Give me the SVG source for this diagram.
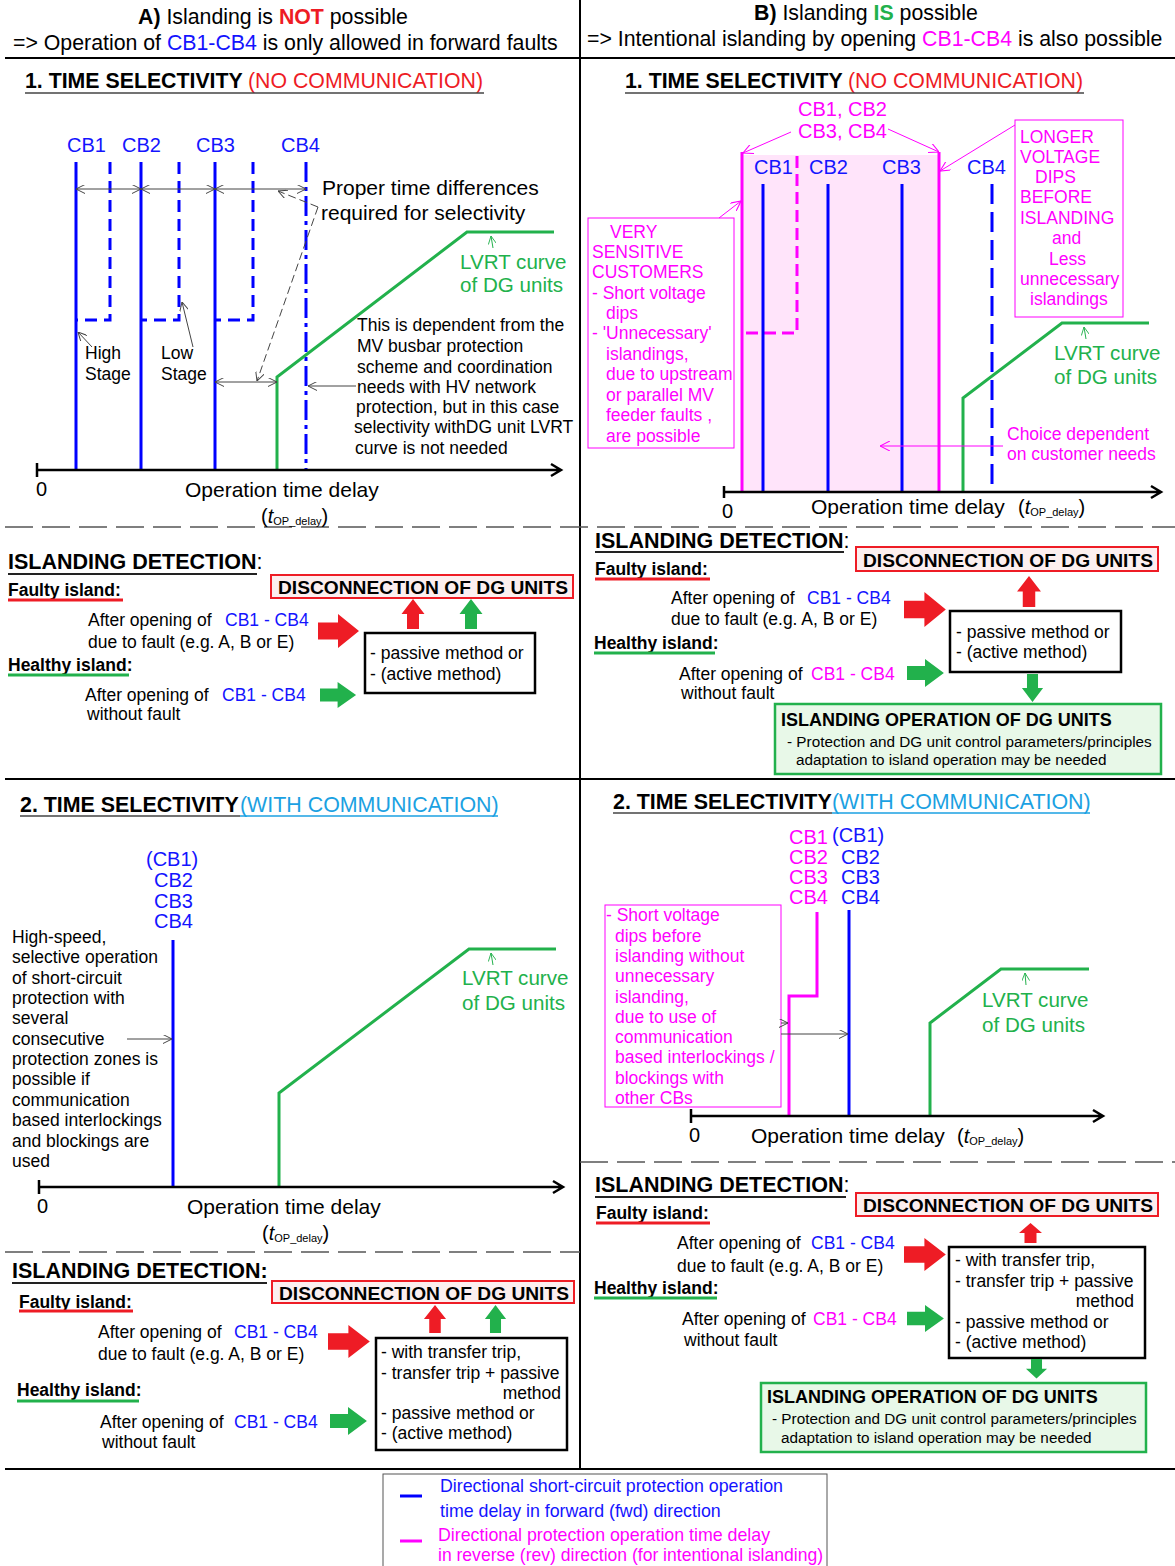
<svg xmlns="http://www.w3.org/2000/svg" width="1175" height="1566" viewBox="0 0 1175 1566">
<style>
text{font-family:"Liberation Sans",Arial,sans-serif;fill:#000}
.b{font-weight:bold}
.h21{font-size:21.3px}
.f20{font-size:20px}
.f21{font-size:21px}
.lv{font-size:20.6px}
.f17{font-size:17.5px}
.f18{font-size:17.8px}
.fb18{font-size:18px}
.f14{font-size:15.3px}
.blu{fill:#1414ff}
.mag{fill:#ff00ff}
.grn{fill:#22b14c}
.red{fill:#ee1c25}
.lbl{fill:#1ba1e2}
.sep{stroke:#000;stroke-width:2;fill:none}
.dsep{stroke:#555;stroke-width:1.5;stroke-dasharray:28 9;fill:none}
.ul{stroke:#444;stroke-width:1.5}
.bl{stroke:#0000ff;stroke-width:3;fill:none}
.bld{stroke:#0000ff;stroke-width:3;fill:none;stroke-dasharray:12 7}
.mg{stroke:#ff00ff;stroke-width:3;fill:none}
.gr{stroke:#22b14c;stroke-width:3;fill:none}
.ax{stroke:#000;stroke-width:2.5;fill:none}
.cn{stroke:#444;stroke-width:1;fill:none}
.cnm{stroke:#ff00ff;stroke-width:1;fill:none}
.cng{stroke:#22b14c;stroke-width:1;fill:none}
.dbox{fill:#fcefef;stroke:#ee1c25;stroke-width:2}
.kbox{fill:#fff;stroke:#000;stroke-width:2.5}
.gbox{fill:#e8f8e8;stroke:#22b14c;stroke-width:2.5}
.mbox{fill:#fff;stroke:#ff00ff;stroke-width:1}
.ar-r{fill:#ee1c25}
.ar-g{fill:#22b14c}
.dg{font-weight:bold;font-size:19.2px}
.idt{font-weight:bold;font-size:21.5px}
</style>
<defs>
<marker id="ah" viewBox="0 0 10 10" refX="10" refY="5" markerWidth="9" markerHeight="9" markerUnits="userSpaceOnUse" orient="auto-start-reverse"><path d="M0,0 L10,5 L0,10" fill="none" stroke="#444" stroke-width="1.1"/></marker>
<marker id="ahm" viewBox="0 0 10 10" refX="10" refY="5" markerWidth="10" markerHeight="10" markerUnits="userSpaceOnUse" orient="auto-start-reverse"><path d="M0,0 L10,5 L0,10" fill="none" stroke="#ff00ff" stroke-width="1.1"/></marker>
<marker id="ahg" viewBox="0 0 10 10" refX="10" refY="5" markerWidth="8" markerHeight="8" markerUnits="userSpaceOnUse" orient="auto-start-reverse"><path d="M0,0 L10,5 L0,10" fill="none" stroke="#22b14c" stroke-width="1.1"/></marker>
<path id="arR" d="M0,-8.5 H20 V-17 L41,0 L20,17 V8.5 H0 Z"/>
<path id="arU" d="M-6,0 V-15 H-11.5 L0,-30 L11.5,-15 H6 V0 Z"/>
</defs>

<rect width="1175" height="1566" fill="#fff"/>

<!-- frame: separators between the panels -->
<g id="frame">
<path class="sep" d="M580,0 V1469"/>
<path class="sep" d="M5,58 H1175"/>
<path class="sep" d="M5,779 H1175"/>
<path class="sep" d="M5,1469 H1175"/>
<path class="dsep" d="M5,527 H1175"/>
<path class="dsep" d="M5,1252 H580"/>
<path class="dsep" d="M580,1162 H1175"/>
</g>

<!-- column headers -->
<g id="header-a">
<text class="h21" x="138" y="24"><tspan class="b">A)</tspan> Islanding is <tspan class="b red">NOT</tspan> possible</text>
<text class="h21" x="13" y="50">=&gt; Operation of <tspan class="blu">CB1-CB4</tspan> is only allowed in forward faults</text>
</g>
<g id="header-b">
<text class="h21" x="754" y="20"><tspan class="b">B)</tspan> Islanding <tspan class="b grn">IS</tspan> possible</text>
<text class="h21" x="587" y="46">=&gt; Intentional islanding by opening <tspan class="mag">CB1-CB4</tspan> is also possible</text>
</g>

<!-- section 1 headings -->
<g id="heading-a1">
<text class="h21" x="25" y="88"><tspan class="b">1. TIME SELECTIVITY</tspan><tspan class="red" x="248">(NO COMMUNICATION)</tspan></text>
<line class="ul" x1="25" y1="93" x2="484" y2="93"/>
</g>
<g id="heading-b1">
<text class="h21" x="625" y="88"><tspan class="b">1. TIME SELECTIVITY</tspan><tspan class="red" x="848">(NO COMMUNICATION)</tspan></text>
<line class="ul" x1="625" y1="93" x2="1084" y2="93"/>
</g>

<!-- chart A1: time selectivity without communication -->
<g id="chart-a1">
<text class="f20 blu" x="67" y="152">CB1</text>
<text class="f20 blu" x="122" y="152">CB2</text>
<text class="f20 blu" x="196" y="152">CB3</text>
<text class="f20 blu" x="281" y="152">CB4</text>
<path class="bl" d="M76,162 V470 M141,162 V470 M215,162 V470"/>
<path class="bld" d="M110,162 V320 H76 M179,162 V320 H141 M253,162 V320 H215"/>
<path class="bl" d="M306,162 V470" stroke-dasharray="20 5 4 5"/>
<path class="gr" d="M277,470 V377 L467,232 H554"/>
<path class="ax" d="M37,470 H560 M551,464 L561,470 L551,476 M37,463 V477"/>
<text class="f20" x="36" y="496">0</text>
<text class="f21" x="185" y="497">Operation time delay</text>
<text class="f20" x="261" y="523">(<tspan font-style="italic">t</tspan><tspan font-size="11" dy="2">OP_delay</tspan><tspan dy="-2">)</tspan></text>
<text class="f17" x="85" y="359">High</text>
<text class="f17" x="85" y="380">Stage</text>
<text class="f17" x="161" y="359">Low</text>
<text class="f17" x="161" y="380">Stage</text>
<text class="f21" x="322" y="195">Proper time differences</text>
<text class="f21" x="321" y="220">required for selectivity</text>
<text class="lv grn" x="460" y="269">LVRT curve</text>
<text class="lv grn" x="460" y="292">of DG units</text>
<text class="f17" x="357" y="331">This is dependent from the</text>
<text class="f17" x="357" y="352">MV busbar protection</text>
<text class="f17" x="357" y="373">scheme and coordination</text>
<text class="f17" x="357" y="393">needs with HV network</text>
<text class="f17" x="356" y="413">protection, but in this case</text>
<text class="f17" x="354" y="433">selectivity withDG unit LVRT</text>
<text class="f17" x="355" y="454">curve is not needed</text>
</g>

<!-- chart B1: intentional islanding without communication -->
<g id="chart-b1">
<rect x="742" y="155" width="197" height="337" fill="#ffe4fa"/>
<path class="mg" d="M742,152 V492 M939,152 V492"/>
<path class="mg" d="M797,156 V333 H742" stroke-dasharray="12 6"/>
<text class="f20 blu" x="754" y="174">CB1</text>
<text class="f20 blu" x="809" y="174">CB2</text>
<text class="f20 blu" x="882" y="174">CB3</text>
<text class="f20 blu" x="967" y="174">CB4</text>
<path class="bl" d="M763,184 V492 M828,184 V492 M902,184 V492"/>
<path class="bl" d="M992,184 V492" stroke-dasharray="20 8"/>
<path class="gr" d="M963,492 V398 L1062,323 H1149"/>
<path class="ax" d="M724,492 H1160 M1151,486 L1161,492 L1151,498 M724,486 V498"/>
<text class="f20" x="722" y="518">0</text>
<text class="f21" x="811" y="514">Operation time delay</text>
<text class="f20" x="1018" y="514">(<tspan font-style="italic">t</tspan><tspan font-size="11" dy="2">OP_delay</tspan><tspan dy="-2">)</tspan></text>
<text class="f20 mag" x="798" y="116">CB1, CB2</text>
<text class="f20 mag" x="798" y="138">CB3, CB4</text>
<rect class="mbox" x="588" y="218" width="146" height="230"/>
<text class="f17 mag" x="610" y="238">VERY</text>
<text class="f17 mag" x="592" y="258">SENSITIVE</text>
<text class="f17 mag" x="592" y="278">CUSTOMERS</text>
<text class="f17 mag" x="592" y="299">- Short voltage</text>
<text class="f17 mag" x="606" y="319">dips</text>
<text class="f17 mag" x="592" y="339">- 'Unnecessary'</text>
<text class="f17 mag" x="606" y="360">islandings,</text>
<text class="f17 mag" x="606" y="380">due to upstream</text>
<text class="f17 mag" x="606" y="401">or parallel MV</text>
<text class="f17 mag" x="606" y="421">feeder faults ,</text>
<text class="f17 mag" x="606" y="442">are possible</text>
<rect class="mbox" x="1015" y="120" width="108" height="197"/>
<text class="f17 mag" x="1020" y="143">LONGER</text>
<text class="f17 mag" x="1020" y="163">VOLTAGE</text>
<text class="f17 mag" x="1035" y="183">DIPS</text>
<text class="f17 mag" x="1020" y="203">BEFORE</text>
<text class="f17 mag" x="1020" y="224">ISLANDING</text>
<text class="f17 mag" x="1052" y="244">and</text>
<text class="f17 mag" x="1049" y="265">Less</text>
<text class="f17 mag" x="1020" y="285">unnecessary</text>
<text class="f17 mag" x="1030" y="305">islandings</text>
<text class="lv grn" x="1054" y="360">LVRT curve</text>
<text class="lv grn" x="1054" y="384">of DG units</text>
<text class="f17 mag" x="1007" y="440">Choice dependent</text>
<text class="f17 mag" x="1007" y="460">on customer needs</text>
</g>

<!-- islanding detection A1 -->
<g id="detect-a1">
<text class="idt" x="8" y="569">ISLANDING DETECTION<tspan font-weight="normal">:</tspan></text>
<line x1="8" y1="574" x2="257" y2="574" stroke="#222" stroke-width="2"/>
<text class="b f17" x="8" y="596">Faulty island:</text>
<line x1="8" y1="600" x2="123" y2="600" stroke="#ee1c25" stroke-width="3"/>
<text class="b f17" x="8" y="671">Healthy island:</text>
<line x1="8" y1="675" x2="129" y2="675" stroke="#22b14c" stroke-width="3"/>
<text class="f17" x="88" y="626">After opening of<tspan class="blu" x="225">CB1 - CB4</tspan></text>
<text class="f17" x="88" y="648">due to fault (e.g. A, B or E)</text>
<text class="f17" x="85" y="701">After opening of<tspan class="blu" x="222">CB1 - CB4</tspan></text>
<text class="f17" x="87" y="720">without fault</text>
<rect class="dbox" x="271" y="575" width="302" height="23"/>
<text class="dg" x="278" y="594">DISCONNECTION OF DG UNITS</text>
<rect class="kbox" x="365" y="633" width="170" height="60"/>
<text class="f17" x="370" y="659">- passive method or</text>
<text class="f17" x="370" y="680">- (active method)</text>
<use href="#arR" class="ar-r" transform="translate(318,631)"/>
<use href="#arR" class="ar-g" transform="translate(320,695) scale(0.88,0.76)"/>
<use href="#arU" class="ar-r" transform="translate(413,629)"/>
<use href="#arU" class="ar-g" transform="translate(471,629)"/>
</g>

<!-- islanding detection B1 -->
<g id="detect-b1">
<text class="idt" x="595" y="548">ISLANDING DETECTION<tspan font-weight="normal">:</tspan></text>
<line x1="595" y1="552" x2="844" y2="552" stroke="#222" stroke-width="2"/>
<text class="b f17" x="595" y="575">Faulty island:</text>
<line x1="595" y1="579" x2="710" y2="579" stroke="#ee1c25" stroke-width="3"/>
<text class="b f17" x="594" y="649">Healthy island:</text>
<line x1="594" y1="653" x2="715" y2="653" stroke="#22b14c" stroke-width="3"/>
<text class="f17" x="671" y="604">After opening of<tspan class="blu" x="807">CB1 - CB4</tspan></text>
<text class="f17" x="671" y="625">due to fault (e.g. A, B or E)</text>
<text class="f17" x="679" y="680">After opening of<tspan class="mag" x="811">CB1 - CB4</tspan></text>
<text class="f17" x="681" y="699">without fault</text>
<rect class="dbox" x="856" y="547" width="302" height="24"/>
<text class="dg" x="863" y="567">DISCONNECTION OF DG UNITS</text>
<rect class="kbox" x="950" y="611" width="171" height="61"/>
<text class="f17" x="956" y="638">- passive method or</text>
<text class="f17" x="956" y="658">- (active method)</text>
<use href="#arR" class="ar-r" transform="translate(904,609.5) scale(1.02,1.03)"/>
<use href="#arR" class="ar-g" transform="translate(907,673) scale(0.9,0.82)"/>
<use href="#arU" class="ar-r" transform="translate(1029,607) scale(1.04,1.03)"/>
<use href="#arU" class="ar-g" transform="translate(1032.5,674) scale(0.92,-0.93)"/>
<rect class="gbox" x="775" y="704" width="386" height="70"/>
<text class="b fb18" x="781" y="726">ISLANDING OPERATION OF DG UNITS</text>
<text class="f14" x="787" y="747">- Protection and DG unit control parameters/principles</text>
<text class="f14" x="796" y="765">adaptation to island operation may be needed</text>
</g>

<!-- section 2 headings -->
<g id="heading-a2">
<text font-size="21.4" x="20" y="812"><tspan class="b">2. TIME SELECTIVITY</tspan><tspan class="lbl" x="240">(WITH COMMUNICATION)</tspan></text>
<line class="ul" x1="20" y1="816" x2="240" y2="816"/>
<line x1="240" y1="816" x2="498" y2="816" stroke="#1ba1e2" stroke-width="1.5"/>
</g>
<g id="heading-b2">
<text font-size="21.4" x="613" y="809"><tspan class="b">2. TIME SELECTIVITY</tspan><tspan class="lbl" x="832">(WITH COMMUNICATION)</tspan></text>
<line class="ul" x1="613" y1="813" x2="832" y2="813"/>
<line x1="832" y1="813" x2="1090" y2="813" stroke="#1ba1e2" stroke-width="1.5"/>
</g>

<!-- chart A2: time selectivity with communication -->
<g id="chart-a2">
<text class="f20 blu" x="146" y="866">(CB1)</text>
<text class="f20 blu" x="154" y="887">CB2</text>
<text class="f20 blu" x="154" y="908">CB3</text>
<text class="f20 blu" x="154" y="928">CB4</text>
<path class="bl" d="M173,940 V1187"/>
<path class="gr" d="M279,1187 V1093 L469,949 H556"/>
<path class="ax" d="M39,1187 H562 M553,1181 L563,1187 L553,1193 M39,1180 V1194"/>
<text class="f20" x="37" y="1213">0</text>
<text class="f21" x="187" y="1214">Operation time delay</text>
<text class="f20" x="262" y="1240">(<tspan font-style="italic">t</tspan><tspan font-size="11" dy="2">OP_delay</tspan><tspan dy="-2">)</tspan></text>
<text class="lv grn" x="462" y="985">LVRT curve</text>
<text class="lv grn" x="462" y="1010">of DG units</text>
<text class="f17" x="12" y="943">High-speed,</text>
<text class="f17" x="12" y="963">selective operation</text>
<text class="f17" x="12" y="984">of short-circuit</text>
<text class="f17" x="12" y="1004">protection with</text>
<text class="f17" x="12" y="1024">several</text>
<text class="f17" x="12" y="1045">consecutive</text>
<text class="f17" x="12" y="1065">protection zones is</text>
<text class="f17" x="12" y="1085">possible if</text>
<text class="f17" x="12" y="1106">communication</text>
<text class="f17" x="12" y="1126">based interlockings</text>
<text class="f17" x="12" y="1147">and blockings are</text>
<text class="f17" x="12" y="1167">used</text>
</g>

<!-- chart B2: intentional islanding with communication -->
<g id="chart-b2">
<text class="f20 mag" x="789" y="844">CB1</text>
<text class="f20 mag" x="789" y="864">CB2</text>
<text class="f20 mag" x="789" y="884">CB3</text>
<text class="f20 mag" x="789" y="904">CB4</text>
<text class="f20 blu" x="832" y="842">(CB1)</text>
<text class="f20 blu" x="841" y="864">CB2</text>
<text class="f20 blu" x="841" y="884">CB3</text>
<text class="f20 blu" x="841" y="904">CB4</text>
<path class="mg" d="M817,912 V996 H789 V1115"/>
<path class="bl" d="M849,910 V1115"/>
<path class="gr" d="M930,1115 V1023 L1001,969 H1089"/>
<path class="ax" d="M691,1116 H1102 M1093,1110 L1103,1116 L1093,1122 M691,1109 V1123"/>
<text class="f20" x="689" y="1142">0</text>
<text class="f21" x="751" y="1143">Operation time delay</text>
<text class="f20" x="957" y="1143">(<tspan font-style="italic">t</tspan><tspan font-size="11" dy="2">OP_delay</tspan><tspan dy="-2">)</tspan></text>
<text class="lv grn" x="982" y="1007">LVRT curve</text>
<text class="lv grn" x="982" y="1032">of DG units</text>
<rect class="mbox" x="605" y="905" width="176" height="202"/>
<text class="f17 mag" x="606" y="921">- Short voltage</text>
<text class="f17 mag" x="615" y="942">dips before</text>
<text class="f17 mag" x="615" y="962">islanding without</text>
<text class="f17 mag" x="615" y="982">unnecessary</text>
<text class="f17 mag" x="615" y="1003">islanding,</text>
<text class="f17 mag" x="615" y="1023">due to use of</text>
<text class="f17 mag" x="615" y="1043">communication</text>
<text class="f17 mag" x="615" y="1063">based interlockings /</text>
<text class="f17 mag" x="615" y="1084">blockings with</text>
<text class="f17 mag" x="615" y="1104">other CBs</text>
</g>

<!-- islanding detection A2 -->
<g id="detect-a2">
<text class="idt" x="12" y="1278">ISLANDING DETECTION:</text>
<line x1="12" y1="1283" x2="267" y2="1283" stroke="#222" stroke-width="2"/>
<text class="b f17" x="19" y="1308">Faulty island:</text>
<line x1="19" y1="1311" x2="133" y2="1311" stroke="#ee1c25" stroke-width="3"/>
<text class="b f17" x="17" y="1396">Healthy island:</text>
<line x1="17" y1="1401" x2="139" y2="1401" stroke="#22b14c" stroke-width="3"/>
<text class="f17" x="98" y="1338">After opening of<tspan class="blu" x="234">CB1 - CB4</tspan></text>
<text class="f17" x="98" y="1360">due to fault (e.g. A, B or E)</text>
<text class="f17" x="100" y="1428">After opening of<tspan class="blu" x="234">CB1 - CB4</tspan></text>
<text class="f17" x="102" y="1448">without fault</text>
<rect class="dbox" x="272" y="1281" width="302" height="22"/>
<text class="dg" x="279" y="1300">DISCONNECTION OF DG UNITS</text>
<rect class="kbox" x="376" y="1338" width="191" height="112"/>
<text class="f17" x="381" y="1358">- with transfer trip,</text>
<text class="f17" x="381" y="1379">- transfer trip + passive</text>
<text class="f17" x="561" y="1399" text-anchor="end">method</text>
<text class="f17" x="381" y="1419">- passive method or</text>
<text class="f17" x="381" y="1439">- (active method)</text>
<use href="#arR" class="ar-r" transform="translate(328,1341.5) scale(1.02,0.97)"/>
<use href="#arR" class="ar-g" transform="translate(330,1421) scale(0.9,0.82)"/>
<use href="#arU" class="ar-r" transform="translate(435,1333) scale(0.96,0.93)"/>
<use href="#arU" class="ar-g" transform="translate(495.5,1333) scale(0.92,0.93)"/>
</g>

<!-- islanding detection B2 -->
<g id="detect-b2">
<text class="idt" x="595" y="1192">ISLANDING DETECTION<tspan font-weight="normal">:</tspan></text>
<line x1="595" y1="1197" x2="846" y2="1197" stroke="#222" stroke-width="2"/>
<text class="b f17" x="596" y="1219">Faulty island:</text>
<line x1="596" y1="1223" x2="710" y2="1223" stroke="#ee1c25" stroke-width="3"/>
<text class="b f17" x="594" y="1294">Healthy island:</text>
<line x1="594" y1="1298" x2="717" y2="1298" stroke="#22b14c" stroke-width="3"/>
<text class="f17" x="677" y="1249">After opening of<tspan class="blu" x="811">CB1 - CB4</tspan></text>
<text class="f17" x="677" y="1272">due to fault (e.g. A, B or E)</text>
<text class="f17" x="682" y="1325">After opening of<tspan class="mag" x="813">CB1 - CB4</tspan></text>
<text class="f17" x="684" y="1346">without fault</text>
<rect class="dbox" x="856" y="1193" width="302" height="23"/>
<text class="dg" x="863" y="1212">DISCONNECTION OF DG UNITS</text>
<rect class="kbox" x="949" y="1247" width="196" height="111"/>
<text class="f17" x="955" y="1266">- with transfer trip,</text>
<text class="f17" x="955" y="1287">- transfer trip + passive</text>
<text class="f17" x="1134" y="1307" text-anchor="end">method</text>
<text class="f17" x="955" y="1328">- passive method or</text>
<text class="f17" x="955" y="1348">- (active method)</text>
<use href="#arR" class="ar-r" transform="translate(904,1254.5) scale(1.02,0.97)"/>
<use href="#arR" class="ar-g" transform="translate(907,1318.5) scale(0.9,0.8)"/>
<use href="#arU" class="ar-r" transform="translate(1030.5,1243) scale(1,0.67)"/>
<use href="#arU" class="ar-g" transform="translate(1036.5,1359) scale(0.92,-0.65)"/>
<rect class="gbox" x="761" y="1383" width="385" height="69"/>
<text class="b fb18" x="767" y="1403">ISLANDING OPERATION OF DG UNITS</text>
<text class="f14" x="772" y="1424">- Protection and DG unit control parameters/principles</text>
<text class="f14" x="781" y="1443">adaptation to island operation may be needed</text>
</g>

<!-- legend -->
<g id="legend">
<rect x="383" y="1474" width="444" height="100" fill="#fff" stroke="#555" stroke-width="1"/>
<line x1="400" y1="1496" x2="422" y2="1496" stroke="#0000ff" stroke-width="3"/>
<line x1="400" y1="1541" x2="422" y2="1541" stroke="#ff00ff" stroke-width="3"/>
<text class="f18 blu" x="440" y="1492">Directional short-circuit protection operation</text>
<text class="f18 blu" x="440" y="1517">time delay in forward (fwd) direction</text>
<text class="f18 mag" x="438" y="1541">Directional protection operation time delay</text>
<text class="f18 mag" x="438" y="1561" textLength="385" lengthAdjust="spacingAndGlyphs">in reverse (rev) direction (for intentional islanding)</text>
</g>

<!-- annotation connectors -->
<g id="connectors">
<path class="cn" d="M76,189 H141" marker-start="url(#ah)" marker-end="url(#ah)"/>
<path class="cn" d="M141,189 H215" marker-start="url(#ah)" marker-end="url(#ah)"/>
<path class="cn" d="M215,189 H306" marker-start="url(#ah)" marker-end="url(#ah)"/>
<path class="cn" d="M215,382 H277" marker-start="url(#ah)" marker-end="url(#ah)"/>
<path class="cn" d="M356,386 H308" marker-end="url(#ah)"/>
<path class="cn" d="M318,207 L278,191" stroke-dasharray="8 4" marker-end="url(#ah)"/>
<path class="cn" d="M318,207 L257,381" stroke-dasharray="8 4" marker-end="url(#ah)"/>
<path class="cn" d="M92,347 L78,332" marker-end="url(#ah)"/>
<path class="cn" d="M193,347 L182,302" marker-end="url(#ah)"/>
<path class="cng" d="M493,248 L491,236" marker-end="url(#ahg)"/>
<path class="cnm" d="M791,132 L743,153" marker-end="url(#ahm)"/>
<path class="cnm" d="M888,129 L939,152" marker-end="url(#ahm)"/>
<path class="cnm" d="M719,218 L741,201" marker-end="url(#ahm)"/>
<path class="cnm" d="M1015,125 L940,171" marker-end="url(#ahm)"/>
<path class="cnm" d="M1003,446 H880" marker-end="url(#ahm)"/>
<path class="cng" d="M1086,339 L1084,327" marker-end="url(#ahg)"/>
<path class="cn" d="M127,1039 H172" marker-end="url(#ah)"/>
<path class="cng" d="M493,965 L491,953" marker-end="url(#ahg)"/>
<path class="cn" d="M781,1023 H788" marker-end="url(#ah)"/>
<path class="cn" d="M781,1034 H848" marker-end="url(#ah)"/>
<path class="cng" d="M1026,985 L1025,973" marker-end="url(#ahg)"/>
</g>
</svg>
